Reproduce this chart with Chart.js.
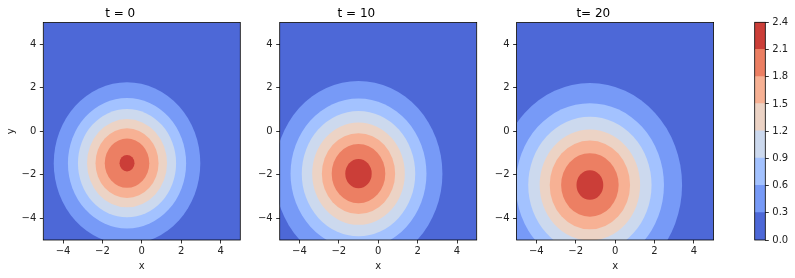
<!DOCTYPE html>
<html>
<head>
<meta charset="utf-8">
<script src="https://cdn.jsdelivr.net/npm/chart.js@4.4.1/dist/chart.umd.min.js"></script>
<style>
    body { margin: 0; background: #fff; width: 795px; height: 278px; overflow: hidden; position: relative; }
    .panel { position: absolute; top: 0; height: 278px; }
</style>
</head>
<body>
<div class="panel" style="left:0px;width:250px"><canvas id="panel-0"></canvas></div>
<div class="panel" style="left:236px;width:250px"><canvas id="panel-1"></canvas></div>
<div class="panel" style="left:473px;width:250px"><canvas id="panel-2"></canvas></div>
<div class="panel" style="left:744px;width:51px"><canvas id="colorbar"></canvas></div>
<script>
// ===============================
// DATA
// ===============================
const titles = ["t = 0", "t = 10", "t= 20"];
const levels = [0.0, 0.3, 0.6, 0.9, 1.2, 1.5, 1.8, 2.1, 2.4];
const levelColors = [
    "rgb(77,104,215)", "rgb(119,154,247)", "rgb(163,194,255)", "rgb(204,217,238)",
    "rgb(236,211,197)", "rgb(247,177,148)", "rgb(236,127,99)", "rgb(203,62,56)"
];
// centre of the bump in each panel
const centerX = [-0.75, -1.0, -1.28];
const centerY = [-1.47, -1.95, -2.47];
// radius of contour 0.3, 0.6, ... 2.1 in each panel (data units)
const radiiT0  = [3.72, 3.00, 2.49, 2.03, 1.60, 1.13, 0.38];
const radiiT10 = [4.26, 3.45, 2.88, 2.35, 1.86, 1.36, 0.67];
const radiiT20 = [4.68, 3.76, 3.13, 2.55, 2.04, 1.46, 0.68];
const radii = [radiiT0, radiiT10, radiiT20];
const axisTicks = [-4, -2, 0, 2, 4];
const cbTicks = [0.0, 0.3, 0.6, 0.9, 1.2, 1.5, 1.8, 2.1, 2.4];

// layout (pixels)
const panelLefts = [0, 236, 473];
const plotLefts = [43.3, 279.7, 516.6];
const plotWidth = 197;
const panelWidth = 250;

Chart.defaults.font.family = "'DejaVu Sans', sans-serif";
Chart.defaults.color = "#222";
Chart.defaults.animation = false;

const minus = v => v < 0 ? "\u2212" + Math.abs(v) : String(v);

// ===============================
// PLUGINS
// ===============================
const contourFill = {
    id: "contourFill",
    beforeDatasetsDraw(chart) {
        const { ctx, chartArea: a, scales: { x, y } } = chart;
        ctx.save();
        ctx.beginPath();
        ctx.rect(a.left, a.top, a.width, a.height);
        ctx.clip();
        ctx.fillStyle = levelColors[0];
        ctx.fillRect(a.left, a.top, a.width, a.height);
        chart.data.datasets.forEach((ds, i) => {
            const p = ds.data[0];
            const px = x.getPixelForValue(p.x);
            const py = y.getPixelForValue(p.y);
            const rx = Math.abs(x.getPixelForValue(p.x + p.r) - px);
            const ry = Math.abs(y.getPixelForValue(p.y + p.r) - py);
            ctx.fillStyle = levelColors[i + 1];
            ctx.beginPath();
            ctx.ellipse(px, py, rx, ry, 0, 0, Math.PI * 2);
            ctx.fill();
        });
        ctx.restore();
    }
};

const frame = {
    id: "frame",
    afterDatasetsDraw(chart) {
        const { ctx, chartArea: a } = chart;
        ctx.save();
        ctx.strokeStyle = "#000";
        ctx.lineWidth = 0.8;
        ctx.strokeRect(a.left, a.top, a.width, a.height);
        ctx.restore();
    }
};

function tickGrid() {
    return { display: true, drawOnChartArea: false, drawTicks: true, tickLength: 3.5, color: "#000", lineWidth: 0.8 };
}

// ===============================
// CONTOUR PANELS
// ===============================
function renderPanel(i) {
    const yw = plotLefts[i] - panelLefts[i];
    const datasets = radii[i].map((r, k) => ({
        label: `${levels[k + 1]}`,
        data: [{ x: centerX[i], y: centerY[i], r }],
        pointRadius: 0
    }));

    new Chart(document.getElementById(`panel-${i}`), {
        type: "scatter",
        data: { datasets },
        options: {
            responsive: true,
            maintainAspectRatio: false,
            layout: { padding: { left: 0, right: panelWidth - yw - plotWidth, top: 0, bottom: 0 } },
            plugins: {
                legend: { display: false },
                tooltip: { enabled: false },
                title: {
                    display: true,
                    text: titles[i],
                    color: "#000",
                    font: { size: 12, weight: "normal" },
                    padding: { top: 7, bottom: 1 }
                }
            },
            scales: {
                x: {
                    type: "linear", min: -5, max: 5,
                    afterBuildTicks: s => { s.ticks = axisTicks.map(v => ({ value: v })); },
                    afterFit: s => { s.height = 38; },
                    ticks: { font: { size: 10 }, padding: 2, callback: minus },
                    grid: tickGrid(),
                    border: { display: false },
                    title: { display: true, text: "x", font: { size: 10 }, padding: { top: 6, bottom: 6 } }
                },
                y: {
                    type: "linear", min: -5, max: 5,
                    afterBuildTicks: s => { s.ticks = axisTicks.map(v => ({ value: v })); },
                    afterFit: s => { s.width = yw; },
                    ticks: { font: { size: 10 }, padding: 3.5, callback: minus },
                    grid: tickGrid(),
                    border: { display: false },
                    title: { display: i === 0, text: "y", font: { size: 10 }, padding: { top: 5, bottom: 5 } }
                }
            }
        },
        plugins: [contourFill, frame]
    });
}

// ===============================
// COLORBAR
// ===============================
function renderColorbar() {
    new Chart(document.getElementById("colorbar"), {
        type: "bar",
        data: {
            labels: [""],
            datasets: levelColors.map((c, k) => ({
                data: [levels[k + 1] - levels[k]],
                backgroundColor: c,
                borderWidth: 0,
                inflateAmount: 0.6,
                barPercentage: 1,
                categoryPercentage: 1
            }))
        },
        options: {
            responsive: true,
            maintainAspectRatio: false,
            layout: { padding: { left: 10.7, right: 0, top: 22.3, bottom: 38 } },
            plugins: { legend: { display: false }, tooltip: { enabled: false } },
            scales: {
                x: { display: false, stacked: true },
                y: {
                    stacked: true, position: "right", min: 0, max: 2.4,
                    afterBuildTicks: s => { s.ticks = cbTicks.map(v => ({ value: v })); },
                    afterFit: s => { s.width = 29.7; },
                    ticks: { font: { size: 10 }, padding: 3.5, callback: v => v.toFixed(1) },
                    grid: tickGrid(),
                    border: { display: false }
                }
            }
        },
        plugins: [frame]
    });
}

// ===============================
// INIT
// ===============================
[0, 1, 2].forEach(renderPanel);
renderColorbar();
</script>
</body>
</html>
